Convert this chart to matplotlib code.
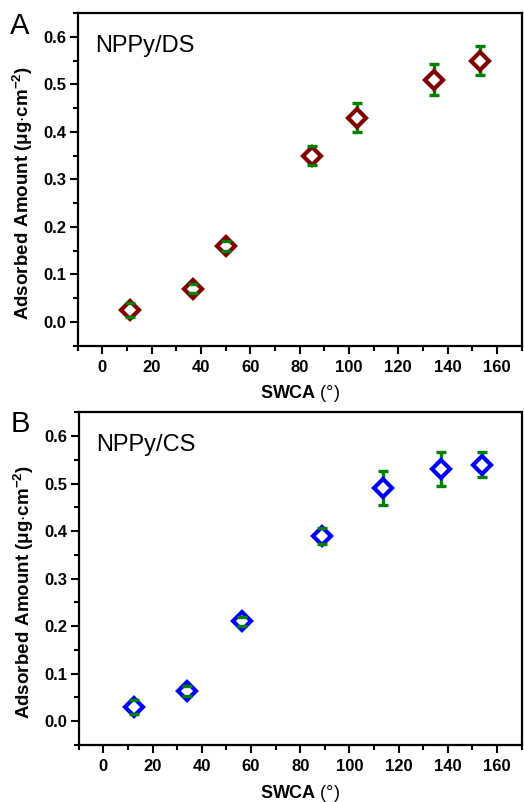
import matplotlib
matplotlib.use("Agg")
import matplotlib.pyplot as plt
from matplotlib.ticker import MultipleLocator

plt.rcParams["font.family"] = ["Liberation Sans", "DejaVu Sans"]
plt.rcParams["mathtext.fontset"] = "custom"
plt.rcParams["mathtext.rm"] = "Liberation Sans"
plt.rcParams["mathtext.bf"] = "Liberation Sans:bold"

# panel A: NPPy/DS
swca_ds = [11.3, 36.7, 50.1, 85.0, 103.1, 134.5, 153.1]
amount_ds = [0.025, 0.070, 0.160, 0.350, 0.430, 0.510, 0.550]
err_ds = [0.015, 0.010, 0.010, 0.020, 0.030, 0.032, 0.030]

# panel B: NPPy/CS
swca_cs = [12.4, 33.9, 56.2, 88.9, 113.6, 137.3, 153.7]
amount_cs = [0.030, 0.064, 0.210, 0.390, 0.490, 0.530, 0.540]
err_cs = [0.015, 0.010, 0.010, 0.017, 0.036, 0.036, 0.026]

W, H = 524, 802
fig = plt.figure(figsize=(W / 100, H / 100), dpi=100)


def panel(rect, x, y, e, mcolor, name, letter, letter_xy):
    ax = fig.add_axes(rect)
    _, caps, bars = ax.errorbar(x, y, yerr=e, fmt="none", ecolor="#008000",
                                elinewidth=2.4, capsize=3.6, capthick=2.4, zorder=1)
    for c in caps:
        c.set_zorder(3)
    ax.plot(x, y, ls="none", marker="D", ms=9.6, mfc="white", mec=mcolor,
            mew=3.0, zorder=2)
    ax.set_xlim(-10, 170)
    ax.set_ylim(-0.05, 0.65)
    ax.xaxis.set_major_locator(MultipleLocator(20))
    ax.xaxis.set_minor_locator(MultipleLocator(10))
    ax.yaxis.set_major_locator(MultipleLocator(0.1))
    ax.yaxis.set_minor_locator(MultipleLocator(0.05))
    ax.yaxis.set_major_formatter(plt.FuncFormatter(lambda v, p: f"{v:.1f}"))
    ax.tick_params(which="both", direction="out", width=1.5, top=False, right=False)
    ax.tick_params(which="major", length=5.5, labelsize=12)
    ax.tick_params(axis="y", which="major", pad=3)
    ax.tick_params(axis="x", which="major", pad=4.5)
    ax.tick_params(which="minor", length=3.5)
    for t in ax.get_xticklabels() + ax.get_yticklabels():
        t.set_fontweight("bold")
    for s in ax.spines.values():
        s.set_linewidth(1.6)
    ax.set_xlabel(r"$\bf{SWCA}$ (°)", fontsize=13)
    ax.set_ylabel(r"$\bf{Adsorbed\ Amount}$ $\bf{(\mu g{\cdot}cm^{-2})}$", fontsize=13.5)
    ax.xaxis.set_label_coords(0.5, -0.113)
    ax.yaxis.set_label_coords(-0.096, 0.46)
    ax.text(0.039, 0.935, name, transform=ax.transAxes, fontsize=17, va="top", ha="left")
    fig.text(letter_xy[0], letter_xy[1], letter, fontsize=21, va="top", ha="left")
    return ax


panel([77.7 / W, 1 - 345.7 / H, 443.8 / W, 332.7 / H], swca_ds, amount_ds, err_ds,
      "#800000", "NPPy/DS", "A", (10 / W, 1 - 12 / H))
panel([78.7 / W, 1 - 745.0 / H, 443.0 / W, 332.7 / H], swca_cs, amount_cs, err_cs,
      "#0000ff", "NPPy/CS", "B", (11 / W, 1 - 410 / H))

fig.savefig("out.png", dpi=100)
